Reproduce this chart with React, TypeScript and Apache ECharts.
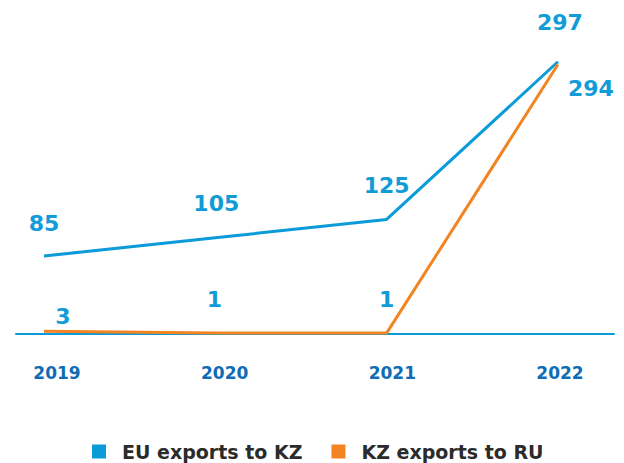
import React, { useEffect, useRef } from "react";
import * as echarts from "echarts";

const years = [2019, 2020, 2021, 2022];
const euExportsToKZ = [85, 105, 125, 297];
const kzExportsToRU = [3, 1, 1, 294];
const seriesNames = ["EU exports to KZ", "KZ exports to RU"];

const BLUE = "#0a9bd8";
const ORANGE = "#f28422";
const LABEL_BLUE = "#119cd8";
const AXIS_BLUE = "#0e6cb6";

const euLabelStyles = [
  { position: "top", distance: 22, offset: [0, 0] },
  { position: "top", distance: 23, offset: [1, 0] },
  { position: "top", distance: 23, offset: [0, 0] },
  { position: "top", distance: 28, offset: [2, 0] },
];
const kzLabelStyles = [
  { position: "top", distance: 4, offset: [19, 0] },
  { position: "top", distance: 23, offset: [-1, 0] },
  { position: "top", distance: 23, offset: [0, 0] },
  { position: "right", distance: 10, offset: [0, 24] },
];

export default function App() {
  const ref = useRef<HTMLDivElement>(null);
  useEffect(() => {
    if (!ref.current) return;
    const chart = echarts.init(ref.current, undefined, { renderer: "svg" });
    const labelBase = {
      show: true,
      color: LABEL_BLUE,
      fontFamily: "DejaVu Sans",
      fontWeight: "bold",
      fontSize: 22,
    };
    chart.setOption({
      animation: false,
      backgroundColor: "#ffffff",
      grid: { left: 16, right: 10, top: 59, bottom: 129 },
      legend: {
        bottom: 2,
        left: 92,
        padding: 0,
        icon: "rect",
        itemWidth: 14,
        itemHeight: 14,
        itemGap: 29,
        textStyle: {
          fontFamily: "DejaVu Sans",
          fontWeight: "bold",
          fontSize: 19,
          color: "#2b2b2b",
          padding: [0, 0, 0, 11],
        },
        data: seriesNames,
      },
      xAxis: [
        {
          type: "value",
          min: 2018.8365,
          max: 2022.3275,
          splitLine: { show: false },
          axisTick: { show: false },
          axisLine: { show: true, onZero: true, lineStyle: { color: BLUE, width: 2 } },
          axisLabel: { show: false },
        },
        {
          type: "value",
          position: "bottom",
          min: 2018.7555,
          max: 2022.3221,
          splitLine: { show: false },
          axisTick: { show: false },
          axisLine: { show: false },
          axisLabel: {
            customValues: years,
            color: AXIS_BLUE,
            fontFamily: "DejaVu Sans",
            fontWeight: "bold",
            fontSize: 17,
            margin: 30,
            formatter: (v: number) => String(v),
          },
        },
      ],
      yAxis: {
        type: "value",
        min: 0,
        max: 300,
        show: false,
        splitLine: { show: false },
      },
      series: [
        {
          name: seriesNames[0],
          type: "line",
          xAxisIndex: 0,
          symbol: "circle",
          symbolSize: 0,
          lineStyle: { color: BLUE, width: 3 },
          itemStyle: { color: BLUE },
          z: 2,
          data: euExportsToKZ.map((v, i) => ({
            value: [years[i], v],
            label: { ...labelBase, ...euLabelStyles[i] },
          })),
        },
        {
          name: seriesNames[1],
          type: "line",
          xAxisIndex: 0,
          symbol: "circle",
          symbolSize: 0,
          lineStyle: { color: ORANGE, width: 3 },
          itemStyle: { color: ORANGE },
          z: 3,
          data: kzExportsToRU.map((v, i) => ({
            value: [years[i], v],
            label: { ...labelBase, ...kzLabelStyles[i] },
          })),
        },
      ],
    });
    return () => chart.dispose();
  }, []);
  return (
    <div
      ref={ref}
      style={{ position: "absolute", left: 0, top: 0, width: 624, height: 463 }}
    />
  );
}
